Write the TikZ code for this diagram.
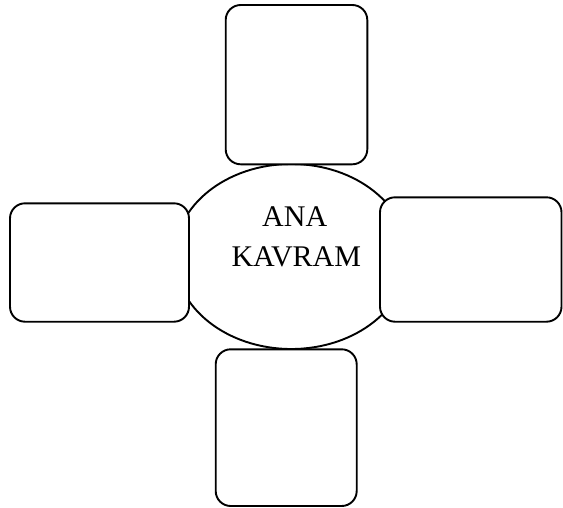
\documentclass[tikz,border=0pt]{standalone}
\usepackage{fontspec}
\setmainfont{Liberation Serif}
\usetikzlibrary{shapes.geometric}
\begin{document}
\begin{tikzpicture}[x=1pt,y=-1pt,
  line width=1.9pt,
  card/.style={draw=black,fill=white,rounded corners=15pt},
  lbl/.style={font=\fontsize{30}{34}\selectfont,anchor=base,inner sep=0pt}]
\useasboundingbox (0,0) rectangle (563,507);
\node[draw,ellipse,minimum width=233.4pt,minimum height=185pt,inner sep=0pt] (core) at (291.3,256.5) {};
\node[lbl] (t1) at (294.7,226) {ANA};
\node[lbl] (t2) at (296.3,266.5) {KAVRAM};
\draw[card] (225.7,5) rectangle (367.3,164.3);
\draw[card] (10,203.3) rectangle (189,321.7);
\draw[card] (380,197.3) rectangle (561.5,321.7);
\draw[card] (215.7,349.3) rectangle (356.7,506);
\end{tikzpicture}
\end{document}
